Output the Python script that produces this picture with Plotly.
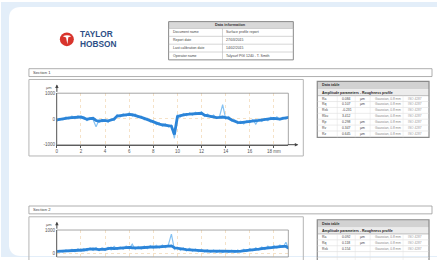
import plotly.graph_objects as go

W, H = 437, 260


def X(p):
    return p / W


def Y(p):
    return 1 - p / H


# ---------------- data ----------------
STEP = 0.25  # mm between profile samples

profile1_core = [-40, -20, 20, 30, 40, 50, 55, 65, 75, 30,
                 -10, 10, 25, -60, -90, -55, -70, -75, -40, -5,
                 110, 130, 150, 165, 180, 170, 140, 110, 60, 20,
                 -30, -75, -120, -170, -200, -225, -240, -260, -280, -600,
                 90, 130, 160, 180, 185, 195, 210, 235, 220, 150,
                 125, 110, 80, 50, 60, 75, 55, 30, -40, -90,
                 -130, -140, -120, -100, -90, -75, -65, -55, -45, -30,
                 -20, 10, 25, 5, -5, 20, 45, 60]
profile1_raw = [-90, 20, -30, 80, 0, 110, 10, 120, 30, 90,
                -60, 60, -20, -300, -40, -110, -10, -130, 0, -60,
                170, 80, 200, 120, 240, 110, 190, 60, 110, -30,
                30, -120, -60, -220, -150, -280, -190, -310, -240, -750,
                150, 80, 210, 130, 240, 150, 260, 190, 280, 100,
                190, 70, 150, 20, 110, 560, 10, 90, -80, -40,
                -180, -90, -190, -70, -150, -30, -200, -10, -100, 20,
                -70, 60, -30, 80, -40, 70, 0, 110]

profile2_core = [70, 77, 91, 84, 105, 112, 98, 126, 140, 133,
                 161, 175, 182, 168, 154, 175, 161, 189, 210, 196,
                 210, 224, 217, 238, 245, 231, 217, 224, 231, 245,
                 238, 252, 266, 259, 273, 280, 294, 301, 315, 231,
                 203, 182, 168, 154, 140, 133, 119, 112, 105, 98,
                 91, 88, 84, 80, 74, 70, 70, 66, 74, 77,
                 77, 88, 98, 112, 126, 140, 161, 175, 196, 210,
                 224, 245, 266, 273, 280, 294, 287, 210]
profile2_raw = [28, 119, 42, 140, 63, 168, 56, 182, 84, 196,
                91, 224, 119, 238, 105, 217, 112, 252, 140, 294,
                154, 266, 168, 301, 182, 385, 161, 280, 175, 308,
                189, 322, 210, 336, 224, 350, 238, 364, 820, 154,
                252, 119, 231, 98, 203, 84, 175, 63, 154, 49,
                140, 35, 133, 28, 119, 21, 112, 35, 126, 28,
                133, 42, 161, 70, 196, 105, 231, 133, 266, 161,
                301, 196, 329, 224, 350, 245, 470, 140]

x_tickvals = [0, 2, 4, 6, 8, 10, 12, 14, 16, 18]
x_ticktext = ["0", "2", "4", "6", "8", "10", "12", "14", "16", "18 mm"]
y_tickvals = [-1000, 0, 1000]
y_ticktext = ["-1000", "0", "1000"]
y_unit = "µm"

logo_lines = ["TAYLOR", "HOBSON"]

info_title = "Data information"
info_labels = ["Document name", "Report date", "Last calibration date", "Operator name"]
info_values = ["Surface profile report", "27/03/2015", "14/02/2015", "Talysurf PGI 1240 - T. Smith"]

section_titles = ["Section 1", "Section 2"]

table_title = "Data table"
table_subtitle = "Amplitude parameters - Roughness profile"
param_names = ["Ra", "Rq", "Rsk", "Rku", "Rp", "Rv", "Rz"]
param_values_1 = ["0.084", "0.107", "-0.231", "3.412", "0.298", "0.347", "0.645"]
param_values_2 = ["0.092", "0.118", "0.154", "3.105", "0.311", "0.289", "0.600"]
param_units = ["µm", "µm", "", "", "µm", "µm", "µm"]
param_filters = ["Gaussian, 0.8 mm", "Gaussian, 0.8 mm", "Gaussian, 0.8 mm", "Gaussian, 0.8 mm",
                 "Gaussian, 0.8 mm", "Gaussian, 0.8 mm", "Gaussian, 0.8 mm"]
param_notes = ["ISO 4287", "ISO 4287", "ISO 4287", "ISO 4287", "ISO 4287", "ISO 4287", "ISO 4287"]

# ---------------- figure ----------------
FONT = "Liberation Sans, Arial, sans-serif"
CORE = "#2b84d8"
RAW = "#86c2f2"
BG = "#e3eef9"


def xs(arr):
    return [i * STEP for i in range(len(arr))]


fig = go.Figure()
fig.add_trace(go.Scatter(x=xs(profile1_raw), y=profile1_raw, mode="lines",
                         line=dict(color=RAW, width=1.2), xaxis="x", yaxis="y", hoverinfo="skip"))
fig.add_trace(go.Scatter(x=xs(profile1_core), y=profile1_core, mode="lines",
                         line=dict(color=CORE, width=2.8), xaxis="x", yaxis="y"))
fig.add_trace(go.Scatter(x=xs(profile2_raw), y=profile2_raw, mode="lines",
                         line=dict(color=RAW, width=1.2), xaxis="x2", yaxis="y2", hoverinfo="skip"))
fig.add_trace(go.Scatter(x=xs(profile2_core), y=profile2_core, mode="lines",
                         line=dict(color=CORE, width=2.8), xaxis="x2", yaxis="y2"))

tickfont = dict(family=FONT, size=4.5, color="#555")
grid = dict(showgrid=True, gridcolor="#f5e2c8", griddash="dot", gridwidth=0.8, zeroline=False)

fig.update_layout(
    width=W, height=H, margin=dict(l=0, r=0, t=0, b=0),
    paper_bgcolor="white", plot_bgcolor="white", showlegend=False,
    xaxis=dict(domain=[X(56), X(288)], range=[0, 19.2], anchor="y",
               tickvals=x_tickvals, ticktext=x_ticktext, tickfont=tickfont,
               ticks="outside", ticklen=2, tickcolor="#555",
               showline=True, linecolor="#555", linewidth=1, **grid),
    yaxis=dict(domain=[Y(145.5), Y(93)], range=[-1000, 1000], anchor="x",
               tickvals=y_tickvals, ticktext=y_ticktext, tickfont=tickfont,
               ticks="", showline=True, linecolor="#555", linewidth=1, **grid),
    xaxis2=dict(domain=[X(56), X(288)], range=[0, 19.2], anchor="y2",
                tickvals=x_tickvals, showticklabels=False, showline=False, **grid),
    yaxis2=dict(domain=[0, Y(232.5)], range=[-170, 1000], anchor="x2",
                tickvals=y_tickvals, ticktext=y_ticktext, tickfont=tickfont,
                ticks="", showline=True, linecolor="#555", linewidth=1, **grid),
)

shapes = []
ann = []


def rect(x0, y0, x1, y1, line="#9a9a9a", width=0.8, fill=None, layer="above"):
    shapes.append(dict(type="rect", xref="paper", yref="paper",
                       x0=X(x0), x1=X(x1), y0=Y(y1), y1=Y(y0),
                       line=dict(color=line, width=width),
                       fillcolor=fill if fill else "rgba(0,0,0,0)", layer=layer))


def hline(x0, x1, y, color="#d0d0d0", width=0.6):
    shapes.append(dict(type="line", xref="paper", yref="paper",
                       x0=X(x0), x1=X(x1), y0=Y(y), y1=Y(y),
                       line=dict(color=color, width=width)))


def vline(x, y0, y1, color="#d0d0d0", width=0.6):
    shapes.append(dict(type="line", xref="paper", yref="paper",
                       x0=X(x), x1=X(x), y0=Y(y0), y1=Y(y1),
                       line=dict(color=color, width=width)))


def text(x, y, s, size=3.8, color="#444", anchor="left", bold=False):
    ann.append(dict(xref="paper", yref="paper", x=X(x), y=Y(y), text=f"<b>{s}</b>" if bold else s,
                    showarrow=False, xanchor=anchor, yanchor="middle",
                    font=dict(family=FONT, size=size, color=color)))


# light-blue page background with a white card (rounded left corners)
rect(0, 0, W, H, width=0, fill=BG, layer="below")
r = 12
cx0, cy0, cx1, cy1 = 8, 5, 437, 259
path = (f"M {X(cx0 + r)},{Y(cy0)} L {X(cx1)},{Y(cy0)} L {X(cx1)},{Y(cy1)} "
        f"L {X(cx0 + r)},{Y(cy1)} Q {X(cx0)},{Y(cy1)} {X(cx0)},{Y(cy1 - r)} "
        f"L {X(cx0)},{Y(cy0 + r)} Q {X(cx0)},{Y(cy0)} {X(cx0 + r)},{Y(cy0)} Z")
shapes.append(dict(type="path", path=path, xref="paper", yref="paper",
                   fillcolor="white", line=dict(width=0), layer="below"))

# logo
shapes.append(dict(type="circle", xref="paper", yref="paper",
                   x0=X(59), x1=X(73), y0=Y(45), y1=Y(31),
                   fillcolor="#d8342c", line=dict(width=0)))
logo_mark = (f"M {X(62)},{Y(35)} Q {X(66)},{Y(33)} {X(70.5)},{Y(35)} "
             f"L {X(67.5)},{Y(36)} L {X(66.5)},{Y(43)} L {X(65.2)},{Y(36.2)} Z")
shapes.append(dict(type="path", path=logo_mark, xref="paper", yref="paper",
                   fillcolor="white", line=dict(width=0)))
text(77, 33, logo_lines[0], size=8.3, color="#2d4f86", bold=True)
text(77, 42.5, logo_lines[1], size=8.3, color="#2d4f86", bold=True)

# info table
rect(168, 20, 293, 27, line="#8a8a8a", width=0, fill="#d9d9d9")
rect(168, 20, 293, 59, line="#8a8a8a", width=1)
for i in range(4):
    yy = 27 + 8 * i
    hline(168, 293, yy, color="#b8b8b8")
vline(222, 27, 59, color="#b8b8b8")
text(230, 23.5, info_title, size=3.8, color="#333", anchor="center", bold=True)
for i, (lab, val) in enumerate(zip(info_labels, info_values)):
    yc = 31 + 8 * i
    text(170, yc, lab, size=3.5)
    text(224, yc, val, size=3.5)

# sections
chart_tops = [79, 219]
section_tops = [68, 208]
table_tops = [81, 222]
param_sets = [param_values_1, param_values_2]
for k in range(2):
    st = section_tops[k]
    rect(28, st, 432, st + 8, line="#9a9a9a", width=0.8)
    text(30.5, st + 4, section_titles[k], size=4.2, color="#444")

    ct = chart_tops[k]
    rect(28, ct, 303, ct + 78, line="#b5b5b5", width=1)

    tt = table_tops[k]
    rect(317, tt, 429, tt + 8, width=0, fill="#d2d2d2")
    rect(317, tt + 8, 429, tt + 14.5, width=0, fill="#ececec")
    rect(317, tt, 429, tt + 57, line="#8a8a8a", width=1.2)
    text(320, tt + 4, table_title, size=3.7, color="#333", bold=True)
    text(320, tt + 11.3, table_subtitle, size=3.5, color="#222", bold=True)
    hline(317, 429, tt + 14.5, color="#9a9a9a", width=0.6)
    for i, name in enumerate(param_names):
        y0 = tt + 14.5 + 6 * i
        if i > 0:
            hline(317, 429, y0, color="#d6d6d6", width=0.5)
        yc = y0 + 3
        if yc > 255:
            continue
        text(320, yc, name, size=3.4)
        text(340, yc, param_sets[k][i], size=3.4)
        text(358, yc, param_units[i], size=3.4)
        text(373, yc, param_filters[i], size=3.2, color="#888")
        text(406, yc, param_notes[i], size=3.2, color="#999")
    for vx in [337, 355, 370, 403]:
        vline(vx, tt + 14.5, tt + 57, color="#e0e0e0", width=0.5)

# plot frames
for xr, yr in [("x domain", "y domain"), ("x2 domain", "y2 domain")]:
    shapes.append(dict(type="rect", xref=xr, yref=yr, x0=0, x1=1, y0=0, y1=1,
                       line=dict(color="#8f8f8f", width=0.8)))

# axis unit labels and arrows
text(48.5, 87, y_unit, size=4, color="#555", anchor="center")
text(48.5, 227, y_unit, size=4, color="#555", anchor="center")
for head_y, tail_y in [(84, 93), (224, 232.5)]:
    ann.append(dict(xref="paper", yref="paper", x=X(56), y=Y(head_y), text="",
                    showarrow=True, ax=0, ay=tail_y - head_y, arrowhead=2,
                    arrowsize=0.7, arrowwidth=1, arrowcolor="#444"))
ann.append(dict(xref="paper", yref="paper", x=X(298), y=Y(145.5), text="",
                showarrow=True, ax=-12, ay=0, arrowhead=2,
                arrowsize=0.7, arrowwidth=1, arrowcolor="#444"))

fig.update_layout(shapes=shapes, annotations=ann)
fig.write_html("out.html", config={"displayModeBar": False},
               post_script=("document.documentElement.style.overflow='hidden';"
                            "document.body.style.margin='0px';"
                            "document.body.style.overflow='hidden';"))
